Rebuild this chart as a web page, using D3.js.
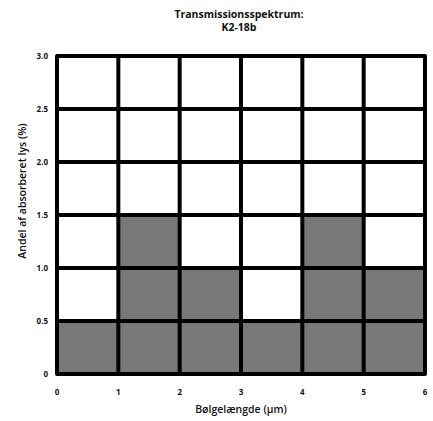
<!DOCTYPE html>
<html><head><meta charset="utf-8">
<script src="https://cdn.jsdelivr.net/npm/d3@7"></script>
<style>body{margin:0;background:#fff}svg{display:block}text{font-family:"Open Sans",sans-serif;fill:#111}</style>
</head><body>
<script>
const binStarts = [0, 1, 2, 3, 4, 5];
const absorption = [0.5, 1.5, 1.0, 0.5, 1.5, 1.0];
const xTicks = [0, 1, 2, 3, 4, 5, 6];
const yTicks = [0, 0.5, 1.0, 1.5, 2.0, 2.5, 3.0];
const yTickLabels = ["0", "0.5", "1.0", "1.5", "2.0", "2.5", "3.0"];
const titleLines = ["Transmissionsspektrum:", "K2-18b"];
const xTitle = "Bølgelængde (µm)";
const yTitle = "Andel af absorberet lys (%)";

const W = 433, H = 421;
const svg = d3.select("body").append("svg").attr("width", W).attr("height", H);
const x = d3.scaleLinear().domain([0, 6]).range([57, 425]);
const y = d3.scaleLinear().domain([0, 3]).range([374, 56]);

svg.selectAll("rect.bar").data(binStarts).enter().append("rect")
  .attr("x", d => x(d)).attr("width", d => x(d + 1) - x(d))
  .attr("y", (d, i) => y(absorption[i])).attr("height", (d, i) => y(0) - y(absorption[i]))
  .attr("fill", "#787878");

const g = svg.append("g").attr("stroke", "#000").attr("stroke-width", 4);
g.selectAll("line.v").data(xTicks.slice(1, -1)).enter().append("line")
  .attr("x1", d => x(d)).attr("x2", d => x(d)).attr("y1", y(0)).attr("y2", y(3));
g.selectAll("line.h").data(yTicks.slice(1, -1)).enter().append("line")
  .attr("x1", x(0)).attr("x2", x(6)).attr("y1", d => y(d)).attr("y2", d => y(d));
g.append("rect").attr("x", x(0)).attr("y", y(3)).attr("width", x(6) - x(0)).attr("height", y(0) - y(3))
  .attr("fill", "none").attr("stroke-linejoin", "round");

svg.selectAll("text.yt").data(yTicks).enter().append("text")
  .attr("x", 48).attr("y", d => y(d)).attr("dy", "0.35em").attr("text-anchor", "end")
  .attr("font-size", 8).attr("font-weight", 700).text((d, i) => yTickLabels[i]);
svg.selectAll("text.xt").data(xTicks).enter().append("text")
  .attr("x", d => x(d)).attr("y", 395).attr("text-anchor", "middle")
  .attr("font-size", 8).attr("font-weight", 700).text(d => d);

svg.append("text").attr("x", 241).attr("y", 413).attr("text-anchor", "middle")
  .attr("font-size", 10.5).attr("font-weight", 600).text(xTitle);
svg.append("text").attr("transform", `translate(26,191) rotate(-90)`).attr("text-anchor", "middle")
  .attr("font-size", 10.5).attr("font-weight", 600).text(yTitle);
svg.selectAll("text.title").data(titleLines).enter().append("text")
  .attr("x", 239).attr("y", (d, i) => 18 + i * 13).attr("text-anchor", "middle")
  .attr("font-size", 10.5).attr("font-weight", 700).text(d => d);
</script>
</body></html>
